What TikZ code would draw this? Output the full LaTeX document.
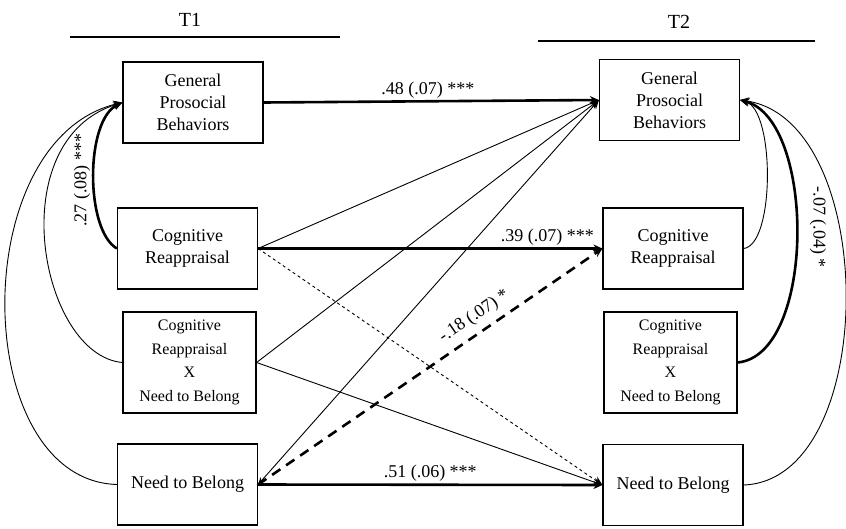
\documentclass[tikz,border=0pt]{standalone}
\usepackage{fontspec}
\setmainfont{Liberation Serif}
\usetikzlibrary{arrows.meta}
\begin{document}
\begin{tikzpicture}[x=1pt,y=-1pt,
  box/.style={draw, line width=1.2pt, minimum width=140pt, minimum height=81pt, align=center, inner sep=1pt, font=\fontsize{18}{22}\selectfont},
  sbox/.style={draw, line width=1.2pt, minimum width=133pt, minimum height=101pt, align=center, inner sep=1pt, font=\fontsize{16}{23.5}\selectfont},
  lthin/.style={line width=0.9pt},
  lthick/.style={line width=2.6pt},
  tip/.style={-{Stealth[length=9pt,width=8pt]}},
  lab/.style={font=\fontsize{18}{22}\selectfont, inner sep=2pt},
  ttl/.style={font=\fontsize{20}{24}\selectfont}
]
\useasboundingbox (0,0) rectangle (846,528);

% titles
\node[ttl] (t1) at (190,20) {T1};
\node[ttl] (t2) at (679,22) {T2};
\coordinate (t1a) at (70,37);
\coordinate (t1b) at (340,37);
\coordinate (t2a) at (538,41);
\coordinate (t2b) at (815,41);
\draw[line width=1.8pt] (t1a) -- (t1b);
\draw[line width=1.8pt] (t2a) -- (t2b);

% T1 boxes
\node[box] (g1) at (193,102.5) {General\\Prosocial\\Behaviors};
\node[box] (c1) at (187.5,248.5) {Cognitive\\Reappraisal};
\node[sbox] (x1) at (189.5,362.5) {Cognitive\\Reappraisal\\X\\Need to Belong};
\node[box] (n1) at (187.5,484.5) {Need to Belong};

% T2 boxes
\node[box] (g2) at (669.5,100) {General\\Prosocial\\Behaviors};
\node[box] (c2) at (673,248.5) {Cognitive\\Reappraisal};
\node[sbox] (x2) at (670.5,362.5) {Cognitive\\Reappraisal\\X\\Need to Belong};
\node[box] (n2) at (673,485) {Need to Belong};

% cross-lagged paths
\draw[lthick, tip] (g1.east) -- node[lab, above, pos=0.49]{.48 (.07) ***} (g2.west);
\draw[lthick, tip] (c1.east) -- node[lab, above, pos=0.84]{.39 (.07) ***} (c2.west);
\draw[lthin, tip] (c1.east) -- (g2.west);
\draw[lthin, tip] (x1.east) -- (g2.west);
\draw[lthin, {Stealth[length=7pt,width=6pt]}-{Stealth[length=9pt,width=8pt]}] (n1.east) -- (g2.west);
\draw[lthin, dash pattern=on 3pt off 3pt, tip] (c1.east) -- (n2.west);
\draw[lthin, tip] (x1.east) -- (n2.west);
\draw[lthick, dash pattern=on 10pt off 7pt, tip] (n1.east) -- node[lab, sloped, above=5pt, pos=0.655]{-.18 (.07) *} (c2.west);
\draw[lthick, tip] (n1.east) -- node[lab, above]{.51 (.06) ***} (n2.west);

% T1 covariances
\draw[lthick, tip] (c1.west) .. controls (85,230) and (85,120) .. (g1.west);
\node[lab, rotate=90] (l27) at (82,180) {.27 (.08) ***};
\draw[lthin, tip] (x1.west) .. controls (40,355) and (0,140) .. (g1.west);
\draw[lthin, tip] (n1.west) .. controls (-30,480) and (-35,140) .. (g1.west);

% T2 covariances
\draw[lthin, tip] (c2.east) .. controls (775,245) and (775,110) .. (g2.east);
\draw[lthick, tip] (x2.east) .. controls (816,355) and (816,120) .. (g2.east);
\draw[lthin, tip] (n2.east) .. controls (880,480) and (880,120) .. (g2.east);
\node[lab, rotate=-90] (l07) at (818,227) {-.07 (.04) *};
\end{tikzpicture}
\end{document}
